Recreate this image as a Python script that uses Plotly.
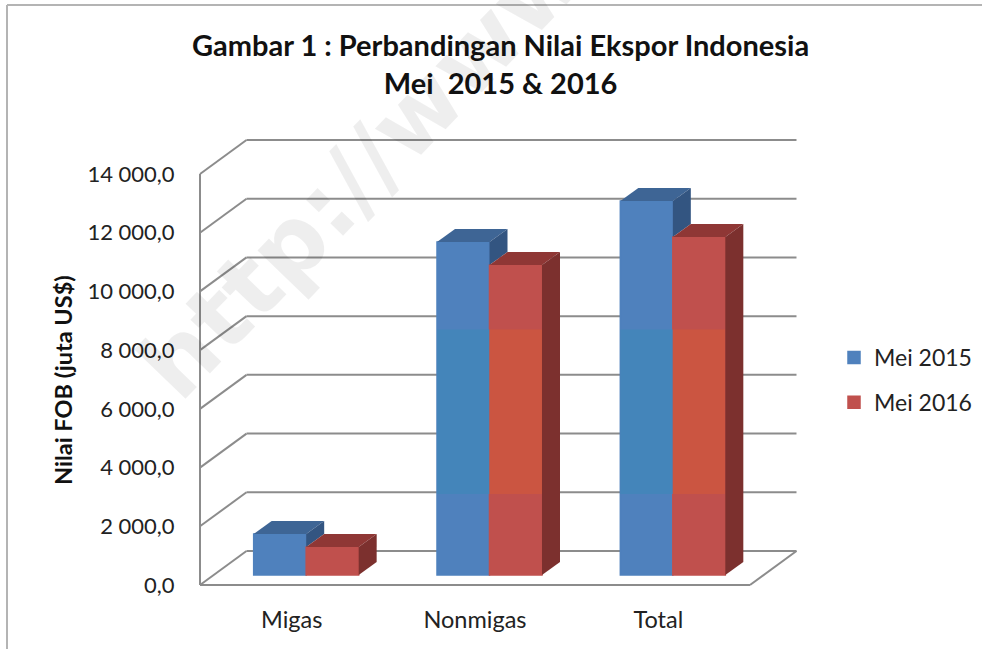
import plotly.graph_objects as go

categories = ["Migas", "Nonmigas", "Total"]
mei_2015 = [1400, 11340, 12740]
mei_2016 = [955, 10560, 11515]
tick_values = [0, 2000, 4000, 6000, 8000, 10000, 12000, 14000]
tick_labels = ["0,0", "2 000,0", "4 000,0", "6 000,0", "8 000,0", "10 000,0", "12 000,0", "14 000,0"]
series_names = ["Mei 2015", "Mei 2016"]
band_low = 3100
band_high = 8700

W, H = 982, 649
FONT = "Lato"
CAT_PX = 183.33
VAL_PX = 411 / 14000
X0_PX, Y0_PX = 200, 585          # front-left-bottom corner of the 3D box
L, R, T, B = 196, 802, 136, 590  # plot area in pixels

BLUE, BLUE_TOP, BLUE_SIDE = "#4f81bd", "#3e6595", "#335581"
RED, RED_TOP, RED_SIDE = "#c0504d", "#8f3735", "#7c302e"
BLUE_BAND, RED_BAND = "#4485ba", "#cb5541"
GRID = "#8c8c8c"

# depth of the box and of the bars, expressed in axis units
BOX_DX, BOX_DY = 46.5 / CAT_PX, 34 / VAL_PX
BAR_DX, BAR_DY = 18 / CAT_PX, 13 / VAL_PX
BAR_W = 52.5 / CAT_PX
BAR_SHIFT = 14.5 / CAT_PX
BAR_BASE = 10 / VAL_PX
XL = -0.5
XR = 2.5


def xc(i, s):
    return i + BAR_SHIFT + (s - 0.5) * BAR_W


fig = go.Figure()
xs = list(range(len(categories)))

for s, (vals, col, name) in enumerate(zip([mei_2015, mei_2016], [BLUE, RED], series_names)):
    fig.add_bar(x=[xc(i, s) for i in xs], y=vals, base=BAR_BASE, width=BAR_W, name=name,
                marker=dict(color=col, line=dict(color=col, width=1.5)), legendgroup=name,
                hovertemplate="%{y}<extra>" + name + "</extra>")

# tinted band visible on the two tall columns
for s, col in enumerate([BLUE_BAND, RED_BAND]):
    fig.add_bar(x=[xc(i, s) for i in xs[1:]], y=[band_high - band_low] * 2, base=band_low,
                width=BAR_W, marker=dict(color=col, line_width=0), showlegend=False, hoverinfo="skip")


def poly(px, py, col):
    fig.add_scatter(x=px, y=py, mode="lines", fill="toself", fillcolor=col, line=dict(width=0, color=col),
                    showlegend=False, hoverinfo="skip")


for i in xs:
    b, r = mei_2015[i], mei_2016[i]
    lb, mid, rr = xc(i, 0) - BAR_W / 2, xc(i, 0) + BAR_W / 2, xc(i, 1) + BAR_W / 2
    tb, tr = b + BAR_BASE, r + BAR_BASE
    # blue top and the part of its side not hidden by the red column
    poly([lb, mid, mid + BAR_DX, lb + BAR_DX, lb], [tb, tb, tb + BAR_DY, tb + BAR_DY, tb], BLUE_TOP)
    poly([mid, mid + BAR_DX, mid + BAR_DX, mid, mid], [tb, tb + BAR_DY, tr + BAR_DY, tr, tb], BLUE_SIDE)
    # red top and side
    poly([mid, rr, rr + BAR_DX, mid + BAR_DX, mid], [tr, tr, tr + BAR_DY, tr + BAR_DY, tr], RED_TOP)
    poly([rr, rr + BAR_DX, rr + BAR_DX, rr, rr], [tr, tr + BAR_DY, BAR_BASE + BAR_DY, BAR_BASE, tr], RED_SIDE)

shapes = []


def seg(x0, y0, x1, y1):
    shapes.append(dict(type="line", xref="x", yref="y", x0=x0, y0=y0, x1=x1, y1=y1, layer="below",
                       line=dict(color=GRID, width=2)))


for v in tick_values:
    seg(XL, v, XL + BOX_DX, v + BOX_DY)
    seg(XL + BOX_DX, v + BOX_DY, XR + BOX_DX, v + BOX_DY)
seg(XL, 0, XL, tick_values[-1])
seg(XL, 0, XR, 0)
seg(XR, 0, XR + BOX_DX, BOX_DY)

# outer frame of the picture
FRAME = "#b4b4b4"
shapes.append(dict(type="line", xref="paper", yref="paper", x0=7 / W, x1=1, y0=1 - 5 / H, y1=1 - 5 / H,
                   line=dict(color=FRAME, width=2)))
shapes.append(dict(type="line", xref="paper", yref="paper", x0=7 / W, x1=7 / W, y0=0, y1=1 - 5 / H,
                   line=dict(color=FRAME, width=2)))

annotations = [
    dict(text="<b>http://www</b>", xref="paper", yref="paper", x=362 / W, y=1 - 170 / H, showarrow=False,
         xanchor="center", yanchor="middle", textangle=-46,
         font=dict(family="DejaVu Sans", size=94, color="rgba(0,0,0,0.065)")),
    dict(text="<b>Gambar 1 : Perbandingan Nilai Ekspor Indonesia<br>Mei\u00a0 2015 &amp; 2016</b>",
         xref="paper", yref="paper", x=500 / W, y=1 - 64 / H, showarrow=False, align="center",
         xanchor="center", yanchor="middle",
         font=dict(family=FONT, size=29, color="#111111")),
    dict(text="<b>Nilai FOB (juta US$)</b>", xref="paper", yref="paper", x=63 / W, y=1 - 380 / H,
         showarrow=False, textangle=-90, xanchor="center", yanchor="middle",
         font=dict(family=FONT, size=23.5, color="#111111")),
]

Y_TICK_FONT = dict(family=FONT, size=22, color="#222222")
X_TICK_FONT = dict(family=FONT, size=23.5, color="#222222")

fig.update_layout(
    width=W, height=H, autosize=False, margin=dict(l=0, r=0, t=0, b=0),
    paper_bgcolor="white", plot_bgcolor="rgba(0,0,0,0)", barmode="overlay", shapes=shapes,
    annotations=annotations, showlegend=True,
    legend=dict(x=834 / W, xanchor="left", y=1 - 380 / H, yanchor="middle", tracegroupgap=12,
                traceorder="grouped", font=dict(family=FONT, size=23, color="#222222"),
                bgcolor="rgba(0,0,0,0)"),
    xaxis=dict(domain=[L / W, R / W], range=[XL + (L - X0_PX) / CAT_PX, XL + (R - X0_PX) / CAT_PX],
               tickmode="array", tickvals=xs, ticktext=categories, showgrid=False, zeroline=False,
               showline=False, ticks="outside", ticklen=9, tickcolor="rgba(0,0,0,0)",
               tickfont=X_TICK_FONT, automargin=False),
    yaxis=dict(domain=[1 - B / H, 1 - T / H], range=[(Y0_PX - B) / VAL_PX, (Y0_PX - T) / VAL_PX],
               tickmode="array", tickvals=tick_values, ticktext=tick_labels, showgrid=False, zeroline=False,
               showline=False, ticks="outside", ticklen=16, tickcolor="rgba(0,0,0,0)",
               tickfont=Y_TICK_FONT, automargin=False),
)

fig.write_html("out.html", config={"displayModeBar": False},
               post_script="document.body.style.margin='0';")
